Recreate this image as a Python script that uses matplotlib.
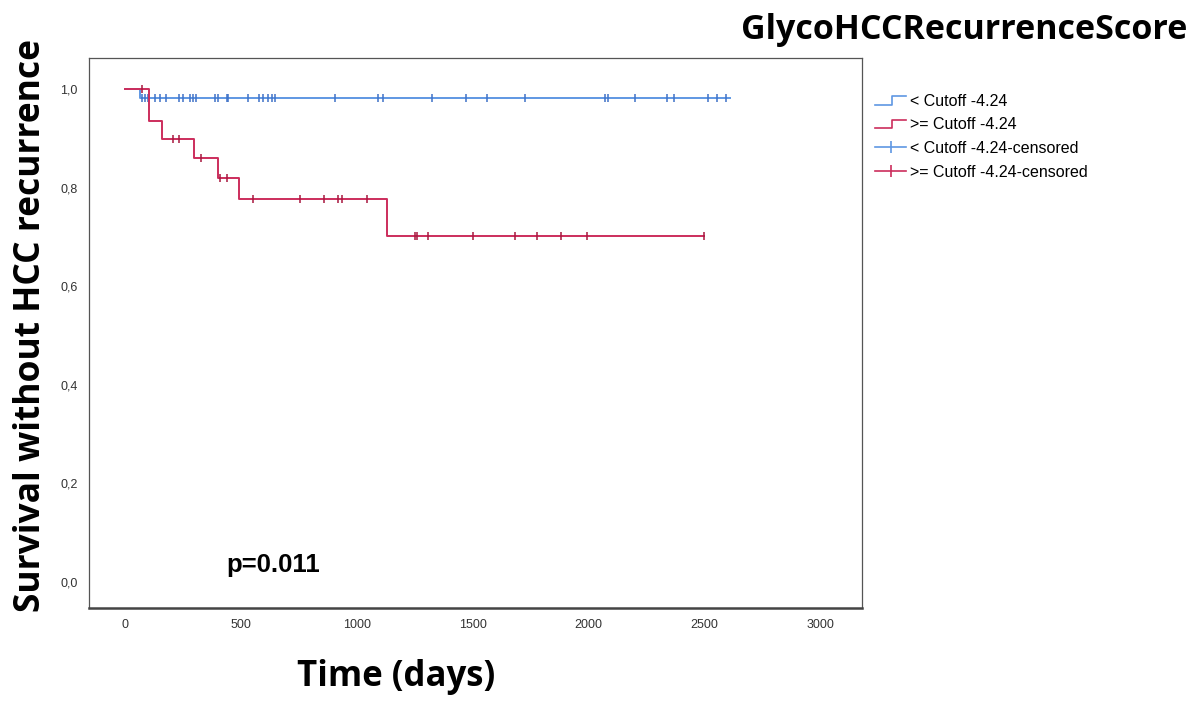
import numpy as np
import matplotlib.pyplot as plt
from matplotlib.lines import Line2D
from matplotlib.legend_handler import HandlerBase
from matplotlib.ticker import FuncFormatter

# Kaplan-Meier steps (event days and survival after each step)
low_event_days = [0, 65]
low_survival = [1.0, 0.982]
low_last_day = 2612
low_censored = [72, 86, 101, 130, 151, 177, 235, 249, 281, 295, 307, 389, 400,
                439, 446, 533, 580, 597, 619, 633, 648, 907, 1094, 1115, 1324,
                1472, 1564, 1727, 2073, 2086, 2199, 2339, 2370, 2514, 2555, 2595]

high_event_days = [0, 104, 160, 298, 401, 492, 1131]
high_survival = [1.0, 0.935, 0.899, 0.86, 0.82, 0.777, 0.702]
high_last_day = 2500
high_censored = [73, 207, 233, 328, 410, 440, 553, 755, 859, 920, 935, 1044,
                 1252, 1261, 1308, 1503, 1684, 1779, 1882, 1995, 2500]

legend_labels = ['< Cutoff -4.24', '>= Cutoff -4.24',
                 '< Cutoff -4.24-censored', '>= Cutoff -4.24-censored']

blue = '#5f97e3'
blue_dark = '#3f72c8'
red = '#cc2d5c'
red_dark = '#a8183f'


def level_at(days, event_days, survival):
    idx = np.searchsorted(event_days, days, side='right') - 1
    return np.asarray(survival)[idx]


class StepHandler(HandlerBase):
    def create_artists(self, legend, orig_handle, xd, yd, w, h, fontsize, trans):
        xs = [xd, xd + w * 0.55, xd + w * 0.55, xd + w]
        ys = [yd + h * 0.1, yd + h * 0.1, yd + h * 0.85, yd + h * 0.85]
        line = Line2D(xs, ys, color=orig_handle.get_color(), lw=1.2, transform=trans)
        return [line]


fig = plt.figure(figsize=(11.98, 7.02), dpi=100)
ax = fig.add_axes([0.0743, 0.134, 0.6452, 0.783])

for ev, surv, last, cens, c, cd in [
        (low_event_days, low_survival, low_last_day, low_censored, blue, blue_dark),
        (high_event_days, high_survival, high_last_day, high_censored, red, red_dark)]:
    xs = list(ev) + [last]
    ys = list(surv) + [surv[-1]]
    ax.step(xs, ys, where='post', color=c, lw=1.4)
    ax.plot(cens, level_at(cens, ev, surv), ls='none', marker='|',
            markersize=6, mew=1.1, color=cd)

ax.set_xlim(-155, 3180)
ax.set_ylim(-0.053, 1.063)
ax.set_xticks(np.arange(0, 3001, 500))
ax.set_yticks(np.arange(0, 1.01, 0.2))
ax.yaxis.set_major_formatter(FuncFormatter(lambda v, p: f'{v:.1f}'.replace('.', ',')))
ax.tick_params(length=0, labelsize=9, labelcolor='#333333', pad=8)
for lbl in ax.get_xticklabels() + ax.get_yticklabels():
    lbl.set_fontfamily('Liberation Sans')
for side in ['top', 'left', 'right']:
    ax.spines[side].set_color('#555555')
    ax.spines[side].set_linewidth(0.9)
ax.spines['bottom'].set_color('#444444')
ax.spines['bottom'].set_linewidth(1.8)

ax.text(640, 0.035, 'p=0.011', fontsize=18.5, fontweight='bold',
        family='Liberation Sans', ha='center', va='center')

handles = [Line2D([], [], color=blue), Line2D([], [], color=red),
           Line2D([], [], color=blue, marker='|', markersize=9, mew=1.2, lw=1.2),
           Line2D([], [], color=red, marker='|', markersize=9, mew=1.2, lw=1.2)]
fig.legend(handles, legend_labels, loc='upper left', bbox_to_anchor=(0.718, 0.887),
           frameon=False, prop={'family': 'Liberation Sans', 'size': 11.5},
           handlelength=2.0, handletextpad=0.25, labelspacing=0.54,
           handler_map={handles[0]: StepHandler(), handles[1]: StepHandler()})

fig.text(0.991, 0.957, 'GlycoHCCRecurrenceScore', ha='right', va='center',
         fontsize=24.5, fontweight='bold', family='Open Sans')
fig.text(0.026, 0.537, 'Survival without HCC recurrence', rotation=90,
         ha='center', va='center', fontsize=25.5, fontweight='bold', family='Open Sans')
fig.text(0.331, 0.035, 'Time (days)', ha='center', va='center',
         fontsize=25, fontweight='bold', family='Open Sans')

fig.savefig('out.png', dpi=100)
